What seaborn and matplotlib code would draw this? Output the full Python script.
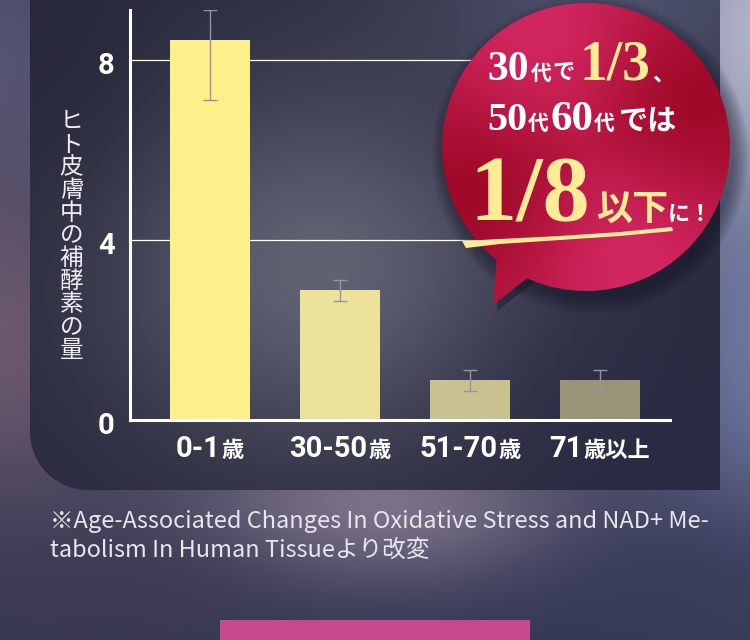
import re
import numpy as np
import pandas as pd
import matplotlib
matplotlib.use("Agg")
import matplotlib.pyplot as plt
import seaborn as sns
from matplotlib.path import Path
from matplotlib.patches import PathPatch, Circle, Polygon, Rectangle
from matplotlib.transforms import ScaledTranslation

# ---------------- data ----------------
categories = ["0-1歳", "30-50歳", "51-70歳", "71歳以上"]
values = [8.44, 2.89, 0.89, 0.89]
err_low = [7.11, 2.65, 0.65, 0.65]
err_high = [9.11, 3.11, 1.11, 1.11]
y_ticks = [0, 4, 8]
y_label = "ヒト皮膚中の補酵素の量"
bar_colors = ["#FFEF8A", "#EDE29A", "#C9C290", "#989478"]
footnote_lines = ["※Age-Associated Changes In Oxidative Stress and NAD+ Me-",
                  "tabolism In Human Tissueより改変"]

# ---------------- setup ----------------
sns.set_theme(style="white")
plt.rcParams['font.family'] = ['Roboto', 'Noto Sans CJK JP', 'DejaVu Sans']
CJK = ['Noto Sans CJK JP', 'DejaVu Sans']
SERIF = ['Liberation Serif', 'DejaVu Serif']
ROBOTO = ['Roboto', 'Noto Sans CJK JP']

W, H = 750, 640
fig = plt.figure(figsize=(W / 100, H / 100), dpi=100)
renderer = fig.canvas.get_renderer()

yy, xx = np.mgrid[0:H, 0:W] + 0.5


def blend(img, cx, cy, rx, ry, color, s):
    w = np.exp(-(((xx - cx) / rx) ** 2 + ((yy - cy) / ry) ** 2)) * s
    c = np.array(color, dtype=float) / 255.0
    return img * (1 - w[..., None]) + c * w[..., None]


# ---------------- background ----------------
ax_bg = fig.add_axes([0, 0, 1, 1], zorder=0)
ax_bg.set_xlim(0, W)
ax_bg.set_ylim(H, 0)
ax_bg.axis('off')

bg = np.ones((H, W, 3)) * np.array([52, 55, 82]) / 255.0
bg = blend(bg, 0, 60, 120, 200, (88, 88, 118), 0.85)
bg = blend(bg, 0, 340, 130, 170, (112, 92, 112), 0.9)
bg = blend(bg, 770, 40, 150, 240, (185, 188, 210), 0.95)
bg = blend(bg, 770, 360, 120, 180, (118, 128, 172), 0.8)
bg = blend(bg, 380, 505, 210, 80, (132, 120, 144), 0.9)
bg = blend(bg, 120, 600, 160, 80, (62, 58, 82), 0.7)
bg = blend(bg, 680, 590, 140, 80, (55, 60, 92), 0.7)
ax_bg.imshow(bg, extent=(0, W, H, 0), origin='upper', aspect='auto', zorder=0)

# dark panel with rounded bottom-left corner
pimg = np.ones((H, W, 3)) * np.array([42, 42, 62]) / 255.0
pimg = blend(pimg, 620, 0, 220, 120, (88, 92, 120), 0.75)
pimg = blend(pimg, 320, 270, 210, 180, (102, 104, 120), 0.9)
pimg = blend(pimg, 640, 430, 160, 110, (42, 45, 72), 0.6)
pimg = blend(pimg, 30, 30, 110, 160, (38, 38, 56), 0.6)
r = 58
k = 0.5523
px0, px1, py1 = 30, 720, 490
verts = [(px0, -20), (px1, -20), (px1, py1), (px0 + r, py1),
         (px0 + r - k * r, py1), (px0, py1 - r + k * r), (px0, py1 - r),
         (px0, -20), (px0, -20)]
codes = [Path.MOVETO, Path.LINETO, Path.LINETO, Path.LINETO,
         Path.CURVE4, Path.CURVE4, Path.CURVE4, Path.LINETO, Path.CLOSEPOLY]
panel = PathPatch(Path(verts, codes), facecolor='none', edgecolor='none',
                  transform=ax_bg.transData)
ax_bg.add_patch(panel)
im_p = ax_bg.imshow(pimg, extent=(0, W, H, 0), origin='upper', aspect='auto', zorder=1)
im_p.set_clip_path(panel)

# pink button at bottom
ax_bg.add_patch(Rectangle((220, 620), 310, 30, facecolor='#C84A8E', edgecolor='none', zorder=2))

# y label (vertical, upright characters)
ax_bg.text(71.5, 236, "\n".join(y_label), family=CJK, fontsize=17, color='#EEEEF2',
           ha='center', va='center', linespacing=0.99, zorder=3)

# footnote
ft = ax_bg.text(50, 528, footnote_lines[0], family=CJK, fontsize=15, color='#E6E6EC',
                ha='left', va='baseline', zorder=3)
wft = ft.get_window_extent(renderer).width
fs = 15 * 660 / wft
ft.set_fontsize(fs)
ax_bg.text(50, 557, footnote_lines[1], family=CJK, fontsize=fs, color='#E6E6EC',
           ha='left', va='baseline', zorder=3)

# ---------------- chart ----------------
ax = fig.add_axes([130 / W, (H - 420) / H, 540 / W, 410 / H], zorder=1)
ax.patch.set_alpha(0)
df = pd.DataFrame({"age": categories, "value": values})
sns.barplot(data=df, x="age", y="value", hue="age", palette=bar_colors, saturation=1,
            width=80 / 130, errorbar=None, legend=False, ax=ax, zorder=2,
            linewidth=0, edgecolor='none')
ax.errorbar(range(len(values)), values,
            yerr=[np.subtract(values, err_low), np.subtract(err_high, values)],
            fmt='none', ecolor='#9494A2', elinewidth=1, capsize=5, capthick=1, zorder=3)
ax.set_xlim(-80 / 130, len(categories) - 1 + 70 / 130)
ax.set_ylim(0, 410 / 45)
ax.set_yticks(y_ticks)
ax.yaxis.grid(True, color='white', linewidth=0.9)
ax.xaxis.grid(False)
ax.set_axisbelow(True)
for s in ['top', 'right']:
    ax.spines[s].set_visible(False)
for s in ['left', 'bottom']:
    ax.spines[s].set_color('white')
    ax.spines[s].set_linewidth(2.2)
    ax.spines[s].set_zorder(4)
ax.set_xlabel('')
ax.set_ylabel('')
ax.tick_params(axis='x', length=0, labelbottom=False)
ax.tick_params(axis='y', length=0, pad=11, labelsize=21, labelcolor='white')
shift = ScaledTranslation(0, -3 / 100, fig.dpi_scale_trans)
for t in ax.get_yticklabels():
    t.set_fontweight('bold')
    t.set_family(ROBOTO)
    t.set_transform(t.get_transform() + shift)

# x category labels: number part large, kanji suffix smaller
for i, cat in enumerate(categories):
    m = re.match(r'([\d\-]+)(.*)', cat)
    num, suf = m.group(1), m.group(2)
    t1 = ax_bg.text(0, 457, num, family=ROBOTO, fontsize=21, fontweight='bold',
                    color='white', ha='left', va='baseline', zorder=5)
    t2 = ax_bg.text(0, 457, suf, family=CJK, fontsize=16, fontweight='bold',
                    color='white', ha='left', va='baseline', zorder=5)
    w1 = t1.get_window_extent(renderer).width
    w2 = t2.get_window_extent(renderer).width
    gap = 1
    cx = ax.transData.transform((i, 0))[0]
    x0 = cx - (w1 + w2 + gap) / 2
    t1.set_x(x0)
    t2.set_x(x0 + w1 + gap)

# ---------------- speech bubble overlay ----------------
ax_o = fig.add_axes([0, 0, 1, 1], zorder=3)
ax_o.set_xlim(0, W)
ax_o.set_ylim(H, 0)
ax_o.axis('off')
ax_o.patch.set_alpha(0)

bcx, bcy, R = 586, 147, 144
tail = [(497, 252), (493, 305), (530, 276), (520, 250)]

# soft shadow
for j in range(10):
    ax_o.add_patch(Circle((bcx + 4, bcy + 8), R + 1.6 * j, facecolor=(0.07, 0.07, 0.14),
                          alpha=0.05, edgecolor='none', zorder=1))
    ax_o.add_patch(Polygon([(x + 4, y + 6) for x, y in tail], closed=True,
                           facecolor=(0.07, 0.07, 0.14), alpha=0.04, edgecolor='none', zorder=1))

theta = np.arctan2(-(yy - bcy), xx - bcx)
rad = np.sqrt((xx - bcx) ** 2 + (yy - bcy) ** 2) / R
t = 0.5 + 0.5 * np.cos(2 * (theta - np.deg2rad(112)))
t = 0.5 + (t - 0.5) * np.clip(rad * 1.3, 0, 1)
dark = np.array([160, 10, 42]) / 255.0
light = np.array([210, 38, 96]) / 255.0
bimg = dark + (light - dark) * t[..., None]

circ = Circle((bcx, bcy), R, facecolor='none', edgecolor='none', transform=ax_o.transData)
tri = Polygon(tail, closed=True, facecolor='none', edgecolor='none', transform=ax_o.transData)
ax_o.add_patch(circ)
ax_o.add_patch(tri)
im1 = ax_o.imshow(bimg, extent=(0, W, H, 0), origin='upper', aspect='auto', zorder=2)
im1.set_clip_path(circ)
im2 = ax_o.imshow(bimg, extent=(0, W, H, 0), origin='upper', aspect='auto', zorder=2)
im2.set_clip_path(tri)
ax_o.set_xlim(0, W)
ax_o.set_ylim(H, 0)

WHT = '#FFFFFF'
YEL = '#FFEC96'


def chain(pieces, x0, base):
    x = x0
    for txt, fam, size, color, gap in pieces:
        tt = ax_o.text(x, base, txt, family=fam, fontsize=size, color=color,
                       fontweight='bold', ha='left', va='baseline', zorder=5)
        x += tt.get_window_extent(renderer).width + gap


chain([("30", SERIF, 30, WHT, 2), ("代", CJK, 15, WHT, 1), ("で", CJK, 16, WHT, 5),
       ("1/3", SERIF, 40, YEL, 1), ("、", CJK, 16, WHT, 0)], 487, 80)
chain([("50", SERIF, 29, WHT, 1), ("代", CJK, 15, WHT, 1), ("60", SERIF, 31, WHT, 1),
       ("代", CJK, 15, WHT, 4), ("では", CJK, 21, WHT, 0)], 487, 130)
chain([("1/8", SERIF, 68, YEL, 6), ("以下", CJK, 26, YEL, 0), ("に！", CJK, 16, WHT, 0)], 469, 220)

# brush underline
top = [(462, 241), (500, 239), (560, 236), (620, 232), (672, 227)]
bot = [(673, 231), (620, 236), (560, 240), (500, 244), (466, 248)]
ax_o.add_patch(Polygon(top + bot, closed=True, facecolor=YEL, edgecolor='none', zorder=4))

fig.savefig("out.png", dpi=100)
